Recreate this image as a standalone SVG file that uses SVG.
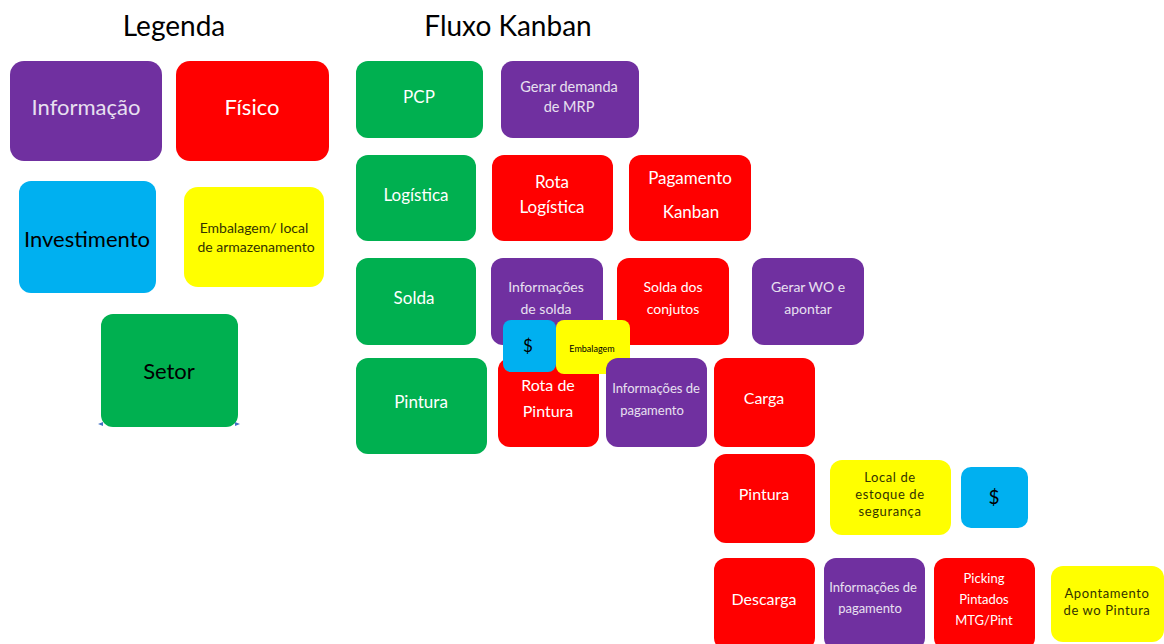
<svg xmlns="http://www.w3.org/2000/svg" width="1164" height="644" viewBox="0 0 1164 644">
<style>
.p{fill:#7030A0}.r{fill:#FF0000}.b{fill:#00B0F0}.y{fill:#FFFF00}.g{fill:#00B050}
text{font-family:Lato,"Open Sans","Liberation Sans",sans-serif;text-anchor:middle;dominant-baseline:central}
.w{fill:#ffffff}.l{fill:#e8e0f0}.k{fill:#000000}.o{fill:#333300;letter-spacing:0.6px}
.t{font-size:28px;fill:#000}
</style>
<rect width="1164" height="644" fill="#ffffff"/>
<text class="t" x="174" y="25">Legenda</text>
<text class="t" x="508" y="25">Fluxo Kanban</text>
<g id="leg-informacao"><rect class="p" x="10" y="61" width="152" height="100" rx="14"/><text class="l" x="86" y="106" font-size="22">Informação</text></g>
<g id="leg-fisico"><rect class="r" x="176" y="61" width="153" height="100" rx="14"/><text class="w" x="252" y="106" font-size="22">Físico</text></g>
<g id="leg-investimento"><rect class="b" x="19" y="181" width="137" height="112" rx="12"/><text class="k" x="87" y="238" font-size="22">Investimento</text></g>
<g id="leg-embalagem"><rect class="y" x="184" y="187" width="140" height="100" rx="14"/><text class="o" x="254" y="227" font-size="14" style="letter-spacing:0">Embalagem/ local</text><text class="o" x="256" y="246" font-size="14" style="letter-spacing:0">de armazenamento</text></g>
<g id="leg-setor"><rect class="g" x="101" y="314" width="137" height="113" rx="12"/><text class="k" x="169" y="370" font-size="22">Setor</text></g>
<g id="ticks" fill="#4472C4"><path d="M98 424 L103 422 L103 426 Z"/><path d="M240 424 L235 422 L235 426 Z"/></g>
<g id="connectors"></g>
<g id="pcp"><rect class="g" x="356" y="61" width="127" height="77" rx="12"/><text class="w" x="419" y="96" font-size="17">PCP</text></g>
<g id="gerar-demanda"><rect class="p" x="501" y="61" width="138" height="77" rx="12"/><text class="l" x="569" y="86" font-size="14.5">Gerar demanda</text><text class="l" x="569" y="106" font-size="14.5">de MRP</text></g>
<g id="logistica"><rect class="g" x="356" y="155" width="120" height="86" rx="12"/><text class="w" x="416" y="194" font-size="17">Logística</text></g>
<g id="rota-logistica"><rect class="r" x="492" y="155" width="121" height="86" rx="12"/><text class="w" x="552" y="181" font-size="17">Rota</text><text class="w" x="552" y="206" font-size="17">Logística</text></g>
<g id="pagamento-kanban"><rect class="r" x="629" y="155" width="122" height="86" rx="12"/><text class="w" x="690" y="177" font-size="17">Pagamento</text><text class="w" x="691" y="211" font-size="17">Kanban</text></g>
<g id="solda"><rect class="g" x="356" y="258" width="120" height="87" rx="12"/><text class="w" x="414" y="297" font-size="17">Solda</text></g>
<g id="info-solda"><rect class="p" x="491" y="258" width="112" height="87" rx="12"/><text class="l" x="546" y="286" font-size="14">Informações</text><text class="l" x="546" y="308" font-size="14">de solda</text></g>
<g id="solda-conjutos"><rect class="r" x="617" y="258" width="112" height="87" rx="12"/><text class="w" x="673" y="286" font-size="14">Solda dos</text><text class="w" x="673" y="308" font-size="14">conjutos</text></g>
<g id="gerar-wo"><rect class="p" x="752" y="258" width="112" height="87" rx="12"/><text class="l" x="808" y="286" font-size="14">Gerar WO e</text><text class="l" x="808" y="308" font-size="14">apontar</text></g>
<g id="pintura-setor"><rect class="g" x="356" y="358" width="131" height="96" rx="12"/><text class="w" x="421" y="401" font-size="17">Pintura</text></g>
<g id="rota-pintura"><rect class="r" x="498" y="358" width="101" height="89" rx="12"/><text class="w" x="548" y="384" font-size="16">Rota de</text><text class="w" x="548" y="410" font-size="16">Pintura</text></g>
<g id="dolar-1"><rect class="b" x="503" y="320" width="53" height="52" rx="8"/><text class="k" x="528" y="345" font-size="17">$</text></g>
<g id="embalagem"><rect class="y" x="556" y="320" width="74" height="54" rx="8"/><text class="k" x="592" y="348" font-size="9">Embalagem</text></g>
<g id="info-pagamento-1"><rect class="p" x="606" y="358" width="101" height="89" rx="12"/><text class="l" x="656" y="388" font-size="13">Informações de</text><text class="l" x="652" y="410" font-size="13">pagamento</text></g>
<g id="carga"><rect class="r" x="714" y="358" width="101" height="89" rx="12"/><text class="w" x="764" y="397" font-size="16">Carga</text></g>
<g id="pintura"><rect class="r" x="714" y="454" width="101" height="89" rx="12"/><text class="w" x="764" y="493" font-size="16">Pintura</text></g>
<g id="local-estoque"><rect class="y" x="830" y="460" width="121" height="75" rx="12"/><text class="o" x="890" y="477" font-size="13">Local de</text><text class="o" x="890" y="494" font-size="13">estoque  de</text><text class="o" x="890" y="511" font-size="13">segurança</text></g>
<g id="dolar-2"><rect class="b" x="961" y="467" width="67" height="61" rx="10"/><text class="k" x="994" y="496" font-size="19">$</text></g>
<g id="descarga"><rect class="r" x="714" y="558" width="101" height="92" rx="12"/><text class="w" x="764" y="598" font-size="16">Descarga</text></g>
<g id="info-pagamento-2"><rect class="p" x="824" y="558" width="101" height="92" rx="12"/><text class="l" x="873" y="587" font-size="13">Informações de</text><text class="l" x="870" y="608" font-size="13">pagamento</text></g>
<g id="picking"><rect class="r" x="934" y="558" width="101" height="92" rx="12"/><text class="w" x="984" y="578" font-size="13">Picking</text><text class="w" x="984" y="599" font-size="13">Pintados</text><text class="w" x="984" y="620" font-size="13">MTG/Pint</text></g>
<g id="apontamento"><rect class="y" x="1051" y="566" width="113" height="76" rx="12"/><text class="o" x="1107" y="593" font-size="13">Apontamento</text><text class="o" x="1107" y="610" font-size="13">de wo Pintura</text></g>
</svg>
